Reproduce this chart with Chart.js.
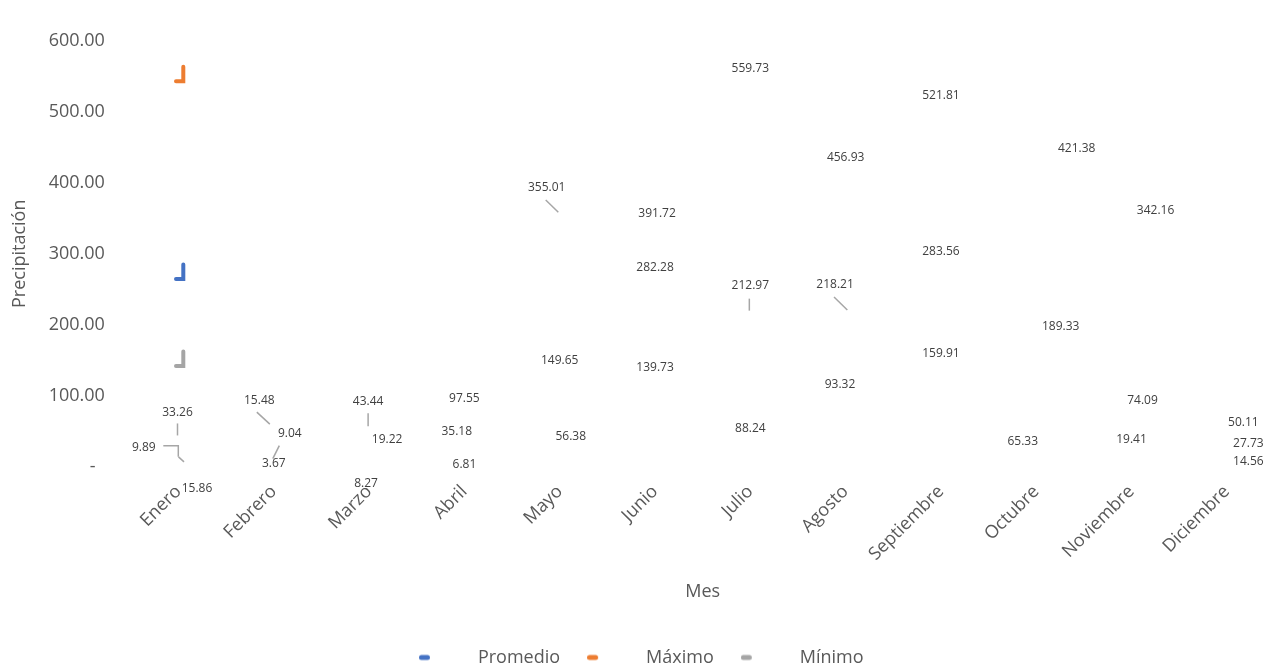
<!DOCTYPE html>
<html>
<head>
<meta charset="utf-8">
<script src="https://cdn.jsdelivr.net/npm/chart.js@4.4.1/dist/chart.umd.min.js"></script>
<style>
  html, body { margin: 0; background: #fff; }
  #wrap { width: 1275px; height: 668px; }
</style>
</head>
<body>
<div id="wrap"><canvas id="chart"></canvas></div>
<script>
// datos
const meses = ['Enero', 'Febrero', 'Marzo', 'Abril', 'Mayo', 'Junio', 'Julio', 'Agosto', 'Septiembre', 'Octubre', 'Noviembre', 'Diciembre'];
const promedio = [15.86, 9.04, 19.22, 35.18, 149.65, 282.28, 212.97, 218.21, 283.56, 189.33, 74.09, 27.73];
const maximo = [33.26, 15.48, 43.44, 97.55, 355.01, 391.72, 559.73, 456.93, 521.81, 421.38, 342.16, 50.11];
const minimo = [9.89, 3.67, 8.27, 6.81, 56.38, 139.73, 88.24, 93.32, 159.91, 65.33, 19.41, 14.56];
const yMin = 0;
const yMax = 600;
const yStep = 100;
// valores donde quedan las marcas sueltas junto a Enero
const marcasEnero = [264.5, 542.5, 142.2];

// desplazamiento de cada etiqueta respecto a su punto (px)
const offsetsPromedio = [[18.5, 33], [16, -27], [18, -13.5], [-7.7, -10.4], [0, 0], [0, 1], [0, -30], [-10.6, -27], [0, -13.7], [24.5, -5.7], [11, -13.4], [21.5, -4]];
const offsetsMaximo = [[-1, -31], [-14.5, -56], [-1, -34.5], [0, 1], [-13, -27], [2, 25], [0, 0], [0, 15.6], [0, 0], [40.5, -18.4], [24, -13], [16.5, -9]];
const offsetsMinimo = [[-34.7, -12.8], [0, -1], [-3, 22], [0, 2], [11, 9.7], [0, 0], [0, 24], [-5.6, -15.7], [0, 0.6], [-13.5, 21], [0, -13.3], [21.5, 5]];

// líneas guía (px relativos al punto)
const guiasPromedio = { 0: [[0, 1], [5.5, 6]], 1: [[5.5, -15], [-1, -2]], 6: [[-1, -17], [-1, -5]], 7: [[-11.6, -15], [1.7, -2]] };
const guiasMaximo = { 0: [[-1, -20], [-1, -8]], 1: [[-17, -44], [-4, -32]], 2: [[-1, -23], [-1, -10]], 4: [[-14, -14.6], [-1.4, -2.3]] };
const guiasMinimo = { 0: [[-15.2, -14.4], [-0.2, -14.4], [-0.2, -3.4]] };

const textColor = '#595959';
const labelColor = '#404040';
const colors = ['#4472C4', '#ED7D31', '#A5A5A5'];

Chart.defaults.font.family = '"Open Sans", sans-serif';

function legendKey(color) {
  const c = document.createElement('canvas');
  c.width = 50;
  c.height = 8;
  const g = c.getContext('2d');
  g.strokeStyle = color;
  g.lineWidth = 5;
  g.lineCap = 'round';
  g.beginPath();
  g.moveTo(2.5, 4);
  g.lineTo(8.5, 4);
  g.stroke();
  return c;
}

const labelsPlugin = {
  id: 'etiquetas',
  afterDatasetsDraw(chart) {
    const ctx = chart.ctx;
    ctx.save();
    ctx.font = '12px "Open Sans", sans-serif';
    ctx.textAlign = 'center';
    ctx.textBaseline = 'middle';
    chart.data.datasets.forEach((ds, di) => {
      const meta = chart.getDatasetMeta(di);
      meta.data.forEach((pt, i) => {
        const [dx, dy] = ds.labelOffsets[i] || [0, 0];
        const guide = ds.guides[i];
        if (guide) {
          ctx.strokeStyle = '#A6A6A6';
          ctx.lineWidth = 1.5;
          ctx.beginPath();
          guide.forEach(([gx, gy], k) => {
            if (k === 0) ctx.moveTo(pt.x + gx, pt.y + gy);
            else ctx.lineTo(pt.x + gx, pt.y + gy);
          });
          ctx.stroke();
        }
        ctx.fillStyle = labelColor;
        ctx.fillText(ds.data[i].toFixed(2), pt.x + dx, pt.y + dy);
      });
    });
    // marcas en forma de L junto a Enero
    const x0 = chart.scales.x.getPixelForValue(0);
    marcasEnero.forEach((v, i) => {
      const y = chart.scales.y.getPixelForValue(v);
      ctx.strokeStyle = colors[i];
      ctx.lineWidth = 4;
      ctx.lineCap = 'round';
      ctx.beginPath();
      ctx.moveTo(x0 + 4.8, y - 14.5);
      ctx.lineTo(x0 + 4.8, y);
      ctx.lineTo(x0 - 2.5, y);
      ctx.stroke();
    });
    ctx.restore();
  }
};

function makeDataset(label, data, color, offsets, guides) {
  return {
    label,
    data,
    borderColor: color,
    backgroundColor: color,
    showLine: false,
    pointRadius: 0,
    pointHoverRadius: 0,
    pointStyle: legendKey(color),
    labelOffsets: offsets,
    guides,
  };
}

new Chart(document.getElementById('chart'), {
  type: 'line',
  data: {
    labels: meses,
    datasets: [
      makeDataset('Promedio', promedio, colors[0], offsetsPromedio, guiasPromedio),
      makeDataset('Máximo', maximo, colors[1], offsetsMaximo, guiasMaximo),
      makeDataset('Mínimo', minimo, colors[2], offsetsMinimo, guiasMinimo),
    ]
  },
  options: {
    responsive: true,
    maintainAspectRatio: false,
    animation: false,
    events: [],
    layout: { padding: { top: 40.4, left: 8, right: 0.5, bottom: -8.5 } },
    plugins: {
      tooltip: { enabled: false },
      legend: {
        position: 'bottom',
        labels: {
          usePointStyle: true,
          pointStyleWidth: 50,
          padding: 27,
          color: textColor,
          font: { size: 18 },
        }
      }
    },
    scales: {
      x: {
        type: 'category',
        offset: true,
        grid: { display: false, drawTicks: false },
        border: { display: false },
        ticks: { color: textColor, font: { size: 18 }, minRotation: 45, maxRotation: 45, padding: 14, autoSkip: false },
        title: { display: true, text: 'Mes', color: textColor, font: { size: 18 }, padding: { top: 0, bottom: 19 } },
        afterFit: s => { s.height = 154.4; },
      },
      y: {
        min: yMin,
        max: yMax,
        grid: { display: false, drawTicks: false },
        border: { display: false },
        ticks: {
          stepSize: yStep,
          padding: 26,
          color: textColor,
          font: { size: 18 },
          callback: v => (v === 0 ? '-  ' : v.toFixed(2)),
        },
        title: { display: true, text: 'Precipitación', color: textColor, font: { size: 18 }, padding: { top: 1.2, bottom: 0 } },
        afterFit: s => { s.width = 122.85; },
      }
    }
  },
  plugins: [labelsPlugin]
});
</script>
</body>
</html>
